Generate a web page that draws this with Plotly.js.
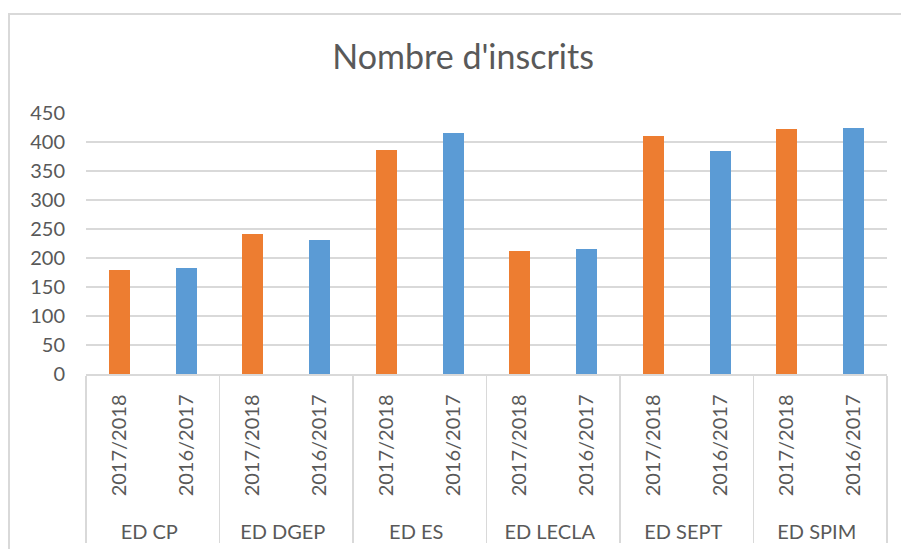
<!DOCTYPE html>
<html>
<head>
<meta charset="utf-8">
<script src="https://cdn.plot.ly/plotly-3.0.1.min.js"></script>
<style>
  body { margin: 0; overflow: hidden; background: #fff; }
  #wrap { position: relative; width: 901px; height: 549px; overflow: hidden; }
  #chart { width: 901px; height: 549px; }
  #frame {
    position: absolute; left: 8px; top: 13px; width: 1000px; height: 1000px;
    border: 2px solid #d9d9d9; pointer-events: none;
  }
</style>
</head>
<body>
<div id="wrap">
  <div id="chart"></div>
  <div id="frame"></div>
</div>
<script>
// Nombre d'inscrits par ecole doctorale
const groups = ['ED CP', 'ED DGEP', 'ED ES', 'ED LECLA', 'ED SEPT', 'ED SPIM'];
const years = ['2017/2018', '2016/2017'];
const inscrits2017_2018 = [179, 241, 387, 212, 410, 422];
const inscrits2016_2017 = [183, 231, 415, 215, 385, 424];
const yTicks = [0, 50, 100, 150, 200, 250, 300, 350, 400, 450];

const orange = '#ed7d31';
const blue = '#5b9bd5';
const textColor = '#595959';
const gridColor = '#d9d9d9';

// leading non-breaking spaces push the group labels a bit lower, like Excel
const pad = '\u00a0\u00a0\u00a0';

// interleave the two years inside each group
const outer = [], inner = [], values = [], colors = [];
groups.forEach((g, i) => {
    outer.push(g); inner.push(pad + years[0]); values.push(inscrits2017_2018[i]); colors.push(orange);
    outer.push(g); inner.push(pad + years[1]); values.push(inscrits2016_2017[i]); colors.push(blue);
});

const data = [{
    type: 'bar',
    x: [outer, inner],
    y: values,
    width: 0.315,
    marker: { color: colors, line: { width: 0 } },
    showlegend: false,
    hoverinfo: 'x+y'
}];

const font = { family: 'Lato, "Open Sans", sans-serif', size: 20, color: textColor };

const layout = {
    width: 901,
    height: 549,
    paper_bgcolor: '#fff',
    plot_bgcolor: '#fff',
    margin: { l: 86, r: 14, t: 113, b: 175 },
    font: font,
    title: {
        text: "Nombre d'inscrits",
        font: { family: 'Lato, "Open Sans", sans-serif', size: 34, color: textColor },
        xref: 'container', x: 0.514, xanchor: 'center',
        yref: 'container', y: 1 - 57 / 549, yanchor: 'middle'
    },
    xaxis: {
        type: 'multicategory',
        tickangle: -90,
        showgrid: false,
        showline: true,
        linecolor: gridColor,
        linewidth: 1.5,
        ticks: '',
        ticklabelstandoff: 11,
        showdividers: true,
        dividercolor: gridColor,
        dividerwidth: 1.5,
        automargin: false,
        tickfont: font
    },
    yaxis: {
        range: [0, 450],
        tickvals: yTicks,
        showgrid: true,
        gridcolor: gridColor,
        gridwidth: 1.5,
        zeroline: false,
        showline: false,
        ticks: '',
        ticklabelstandoff: 20,
        automargin: false,
        tickfont: font
    },
    barmode: 'overlay',
    bargap: 0
};

Plotly.newPlot('chart', data, layout, { displayModeBar: false, staticPlot: true });
</script>
</body>
</html>
